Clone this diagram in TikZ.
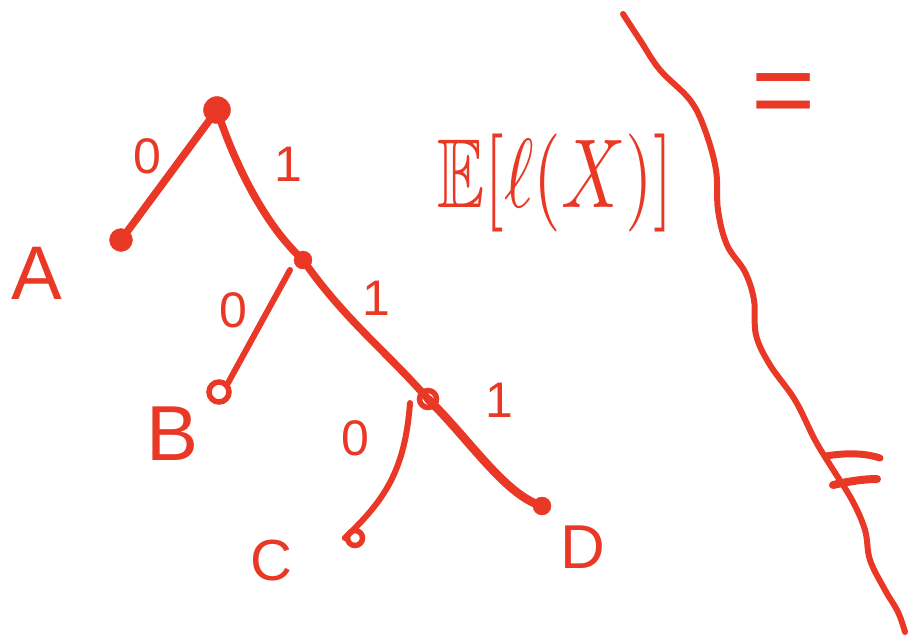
\documentclass[tikz,border=0pt]{standalone}
\usepackage{fontspec}
\setmainfont{Liberation Sans}
\usepackage{amssymb}
\definecolor{pen}{RGB}{234,56,38}
\begin{document}
\begin{tikzpicture}[x=1pt,y=-1pt,
  edge/.style={draw=pen, line width=7.5pt, line cap=round, line join=round},
  thinedge/.style={draw=pen, line width=6pt, line cap=round, line join=round},
  blob/.style={circle, fill=pen, draw=pen, inner sep=0pt, minimum size=#1},
  loopdot/.style={circle, draw=pen, line width=5.5pt, inner sep=0pt, minimum size=#1},
  lbl/.style={text=pen, inner sep=0pt, font=\fontsize{#1}{#1}\selectfont},
  digit/.style={text=pen, inner sep=0pt, font=\fontsize{50}{50}\selectfont}]
\useasboundingbox (0,0) rectangle (908,640);
% tree vertices
\node[blob=27pt] (root) at (217,110) {};
\node[blob=23pt] (nA) at (121,240) {};
\node[blob=18pt] (nB0) at (303,260) {};
\node[loopdot=20pt] (nB) at (219,392) {};
\node[loopdot=17pt] (n3) at (428,399) {};
\node[loopdot=15pt] (nC) at (355,538) {};
\node[blob=18pt] (nD) at (542,506) {};
\coordinate (n2b) at (290,270);
\coordinate (n3c) at (410,403);
% edges
\draw[edge] (root.center) -- (nA.center);
\draw[edge] (root.center) .. controls (235,165) and (265,225) .. (nB0.center);
\draw[thinedge] (n2b) -- (nB.north east);
\draw[edge] (nB0.center) .. controls (345,320) and (385,350) .. (n3.center);
\draw[thinedge] (n3c) .. controls (405,470) and (385,500) .. (nC.west);
\draw[edge, line width=8.5pt] (n3.center) .. controls (470,440) and (505,495) .. (nD.center);
% edge labels
\node[digit] (l0a) at (147,156) {0};
\node[digit] (l1a) at (288,164) {1};
\node[digit] (l0b) at (233,310) {0};
\node[digit] (l1b) at (376,298) {1};
\node[digit] (l0c) at (355,438) {0};
\node[digit] (l1c) at (499,400) {1};
% leaf letters
\node[lbl=76] (A) at (37,273) {A};
\node[lbl=78] (B) at (173,434) {B};
\node[lbl=58] (C) at (271,561) {C};
\node[lbl=62] (D) at (583,547) {D};
% expectation
\node[text=pen, inner sep=0pt] (E) at (555,183)
  {\scalebox{7.1}[9.8]{$\mathbb{E}[\ell(X)]$}};
% equals
\node[lbl=110] (eq) at (784,101) {=};
% wavy line
\draw[thinedge] plot[smooth, tension=0.6] coordinates {
  (623,14) (640,40) (660,70) (690,100) (705,130) (716,170) (718,210)
  (727,245) (745,272) (754,300) (756,335) (770,365) (795,400) (815,440)
  (832,468) (852,500) (865,530) (870,560) (885,590) (898,612) (905,632)};
% F bars
\draw[thinedge, line width=7pt] (826,456) .. controls (850,452) and (868,454) .. (880,458);
\draw[thinedge, line width=8pt] (833,485) .. controls (850,481) and (865,479) .. (877,479);
\end{tikzpicture}
\end{document}
